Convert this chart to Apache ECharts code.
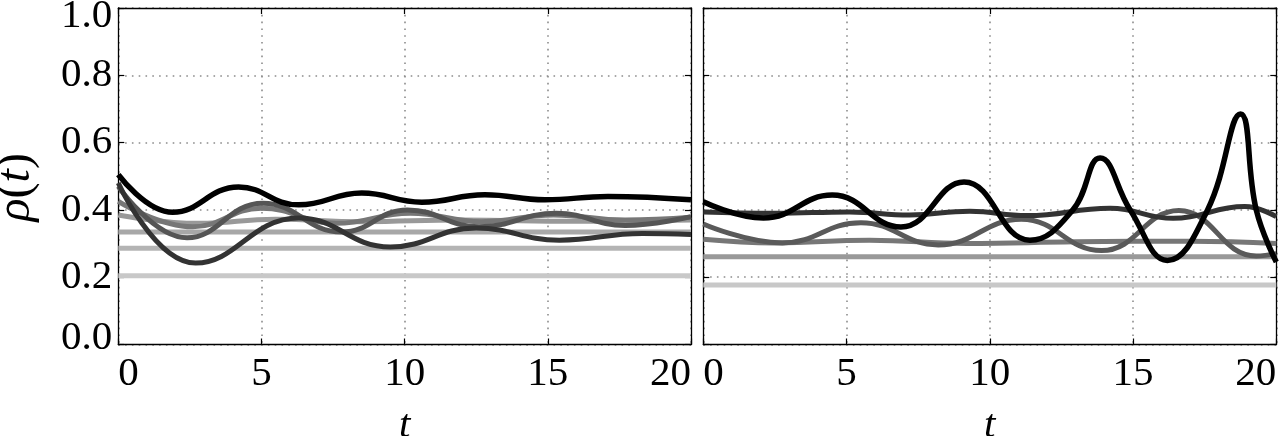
<!DOCTYPE html>
<html>
<head>
<meta charset="utf-8">
<style>
  html, body { margin: 0; padding: 0; background: #fff; }
  #chart { width: 1280px; height: 436px; }
</style>
<script src="https://cdn.jsdelivr.net/npm/echarts/dist/echarts.min.js"></script>
</head>
<body>
<div id="chart"></div>
<script>
// left panel (t, rho)
const tL_black = [0, 1.9, 4.2, 6.3, 8.5, 10.6, 12.8, 14.9, 17.1, 20]
const vL_black = [0.505, 0.393, 0.468, 0.415, 0.45, 0.423, 0.445, 0.43, 0.44, 0.43]
const tL_dark = [0, 2.7, 6.3, 9.5, 12.5, 15.4, 18.3, 20]
const vL_dark = [0.48, 0.242, 0.376, 0.29, 0.346, 0.31, 0.33, 0.327]
const tL_mid = [0, 2.4, 5.05, 7.8, 10.1, 12.6, 15.3, 17.7, 20]
const vL_mid = [0.47, 0.317, 0.42, 0.334, 0.4, 0.35, 0.39, 0.354, 0.38]
const tL_grey = [0, 2.6, 5.0, 7.6, 10.2, 12.7, 15.2, 17.7, 20]
const vL_grey = [0.425, 0.35, 0.405, 0.36, 0.39, 0.365, 0.385, 0.37, 0.378]
const tL_light = [0, 2.8, 5.5, 8.5, 12, 16, 20]
const vL_light = [0.385, 0.36, 0.372, 0.365, 0.37, 0.366, 0.37]
const tL_flat = [0, 20]
const vL_flat1 = [0.334, 0.334]
const vL_flat2 = [0.286, 0.286]
const vL_flat3 = [0.204, 0.204]

// right panel
const tR_black = [0, 2.1, 4.5, 6.9, 9.1, 11.4, 12.9, 13.85, 14.9, 16.2, 17.6, 18.75, 19.3, 20]
const vR_black = [0.424, 0.376, 0.444, 0.349, 0.483, 0.31, 0.4, 0.554, 0.4, 0.25, 0.4, 0.685, 0.4, 0.245]
const tR_dark = [0, 2.5, 5.1, 7.2, 9.3, 11.3, 14.2, 16.4, 18.9, 20]
const vR_dark = [0.394, 0.39, 0.394, 0.385, 0.396, 0.383, 0.405, 0.375, 0.41, 0.38]
const tR_mid = [0, 2.76, 5.5, 8.2, 11.1, 13.9, 16.6, 19.3, 20]
const vR_mid = [0.358, 0.302, 0.362, 0.296, 0.372, 0.279, 0.398, 0.263, 0.27]
const tR_grey = [0, 2.5, 5.8, 9.2, 13, 17, 20]
const vR_grey = [0.313, 0.302, 0.31, 0.3, 0.305, 0.307, 0.3]
const tR_flat = [0, 20]
const vR_flat1 = [0.261, 0.261]
const vR_flat2 = [0.177, 0.177]

const xTicks = [0, 5, 10, 15, 20]
const yTicks = [0, 0.2, 0.4, 0.6, 0.8, 1.0]

const FONT = '"Liberation Serif", "DejaVu Serif", serif'
const FS = 41
const chart = echarts.init(document.getElementById('chart'))

function pairs(ts, vs) {
  return ts.map((t, i) => [t, vs[i]])
}

const gridLine = { show: true, lineStyle: { color: '#8c8c8c', width: 1.6, type: [1.6, 5.2] } }
const frame = { show: true, onZero: false, lineStyle: { color: '#000', width: 1.3 } }
const tick = { show: true, inside: true, length: 6, lineStyle: { color: '#000', width: 1.2 } }

function xAxes(gridIndex) {
  const base = { type: 'value', gridIndex, min: xTicks[0], max: xTicks[xTicks.length - 1], interval: 5 }
  return [
    {
      ...base,
      position: 'bottom',
      axisLine: frame,
      axisTick: tick,
      splitLine: gridLine,
      axisLabel: {
        margin: 9,
        fontFamily: FONT,
        fontSize: FS,
        color: '#000',
        alignMinLabel: 'left',
        alignMaxLabel: 'right',
      },
      name: 't',
      nameLocation: 'middle',
      nameGap: 61,
      nameTextStyle: { fontFamily: FONT, fontSize: FS, fontStyle: 'italic', color: '#000' },
    },
    { ...base, position: 'top', axisLine: frame, axisTick: tick, splitLine: { show: false }, axisLabel: { show: false } },
  ]
}

function yAxes(gridIndex, withLabels) {
  const base = { type: 'value', gridIndex, min: yTicks[0], max: yTicks[yTicks.length - 1], interval: 0.2 }
  const left = {
    ...base,
    position: 'left',
    axisLine: frame,
    axisTick: tick,
    splitLine: gridLine,
    axisLabel: { show: false },
  }
  if (withLabels) {
    left.axisLabel = {
      show: true,
      margin: 6,
      fontFamily: FONT,
      fontSize: FS,
      color: '#000',
      formatter: v => v === 1 ? '{hi|1.0}' : v === 0 ? '{lo|0.0}' : v.toFixed(1),
      rich: {
        hi: { fontFamily: FONT, fontSize: FS, color: '#000', padding: [16, 0, 0, 0] },
        lo: { fontFamily: FONT, fontSize: FS, color: '#000', padding: [0, 0, 12, 0] },
      },
    }
    left.name = '{i|ρ}{n|(}{i|t}{e|)}'
    left.nameLocation = 'middle'
    left.nameRotate = 90
    left.nameGap = 78
    left.nameTextStyle = {
      rich: {
        i: { fontFamily: FONT, fontSize: 48, fontStyle: 'italic', color: '#000' },
        n: { fontFamily: FONT, fontSize: 48, color: '#000' },
        e: { fontFamily: FONT, fontSize: 48, color: '#000', padding: [0, 22, 0, 0] },
      },
    }
  }
  return [
    left,
    { ...base, position: 'right', axisLine: frame, axisTick: tick, splitLine: { show: false }, axisLabel: { show: false } },
  ]
}

function line(xi, yi, ts, vs, color, width) {
  return {
    type: 'line',
    xAxisIndex: xi,
    yAxisIndex: yi,
    data: pairs(ts, vs),
    smooth: 0.45,
    showSymbol: false,
    symbol: 'none',
    silent: true,
    clip: true,
    lineStyle: { color, width },
  }
}

chart.setOption({
  animation: false,
  backgroundColor: '#fff',
  grid: [
    { left: 118.3, top: 8, width: 572.7, height: 336.5, containLabel: false, outerBoundsMode: 'none' },
    { left: 703.3, top: 8, width: 573, height: 336.5, containLabel: false, outerBoundsMode: 'none' },
  ],
  xAxis: [...xAxes(0), ...xAxes(1)],
  yAxis: [...yAxes(0, true), ...yAxes(1, false)],
  series: [
    line(0, 0, tL_flat, vL_flat3, '#c8c8c8', 5),
    line(0, 0, tL_flat, vL_flat2, '#b4b4b4', 5),
    line(0, 0, tL_flat, vL_flat1, '#a8a8a8', 5),
    line(0, 0, tL_light, vL_light, '#999', 5),
    line(0, 0, tL_grey, vL_grey, '#777', 5),
    line(0, 0, tL_mid, vL_mid, '#555', 5),
    line(0, 0, tL_dark, vL_dark, '#333', 5),
    line(0, 0, tL_black, vL_black, '#000', 5.5),

    line(2, 2, tR_flat, vR_flat2, '#c8c8c8', 5),
    line(2, 2, tR_flat, vR_flat1, '#999', 5),
    line(2, 2, tR_grey, vR_grey, '#777', 5),
    line(2, 2, tR_mid, vR_mid, '#5a5a5a', 5),
    line(2, 2, tR_dark, vR_dark, '#333', 5),
    line(2, 2, tR_black, vR_black, '#000', 5.5),
  ],
})
</script>
</body>
</html>
